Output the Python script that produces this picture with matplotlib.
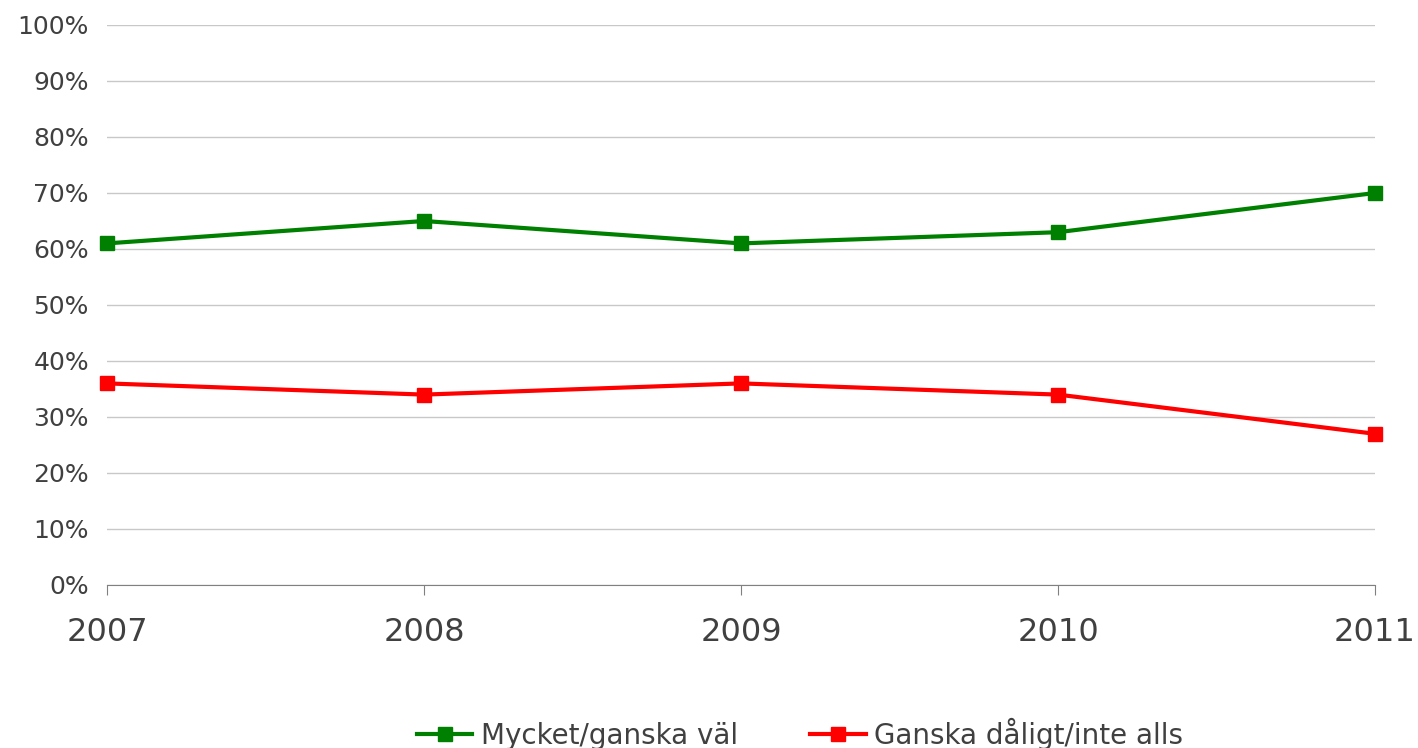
import matplotlib.pyplot as plt

years = ["2007", "2008", "2009", "2010", "2011"]
val_good = [61, 65, 61, 63, 70]
val_bad = [36, 34, 36, 34, 27]
labels = ["Mycket/ganska väl", "Ganska dåligt/inte alls"]

txt = "#404040"

fig = plt.figure(figsize=(14.18, 7.48), dpi=100)
ax = fig.add_axes([107 / 1418, 1 - 585 / 748, (1375 - 107) / 1418, 560 / 748])

x = range(len(years))
ax.plot(x, val_good, color="#008000", lw=3, marker="s", ms=10, label=labels[0], clip_on=False, zorder=3)
ax.plot(x, val_bad, color="#ff0000", lw=3, marker="s", ms=10, label=labels[1], clip_on=False, zorder=3)

ax.set_xlim(0, len(years) - 1)
ax.set_ylim(0, 100)
ax.set_yticks(range(0, 101, 10))
ax.set_yticklabels([f"{v}%" for v in range(0, 101, 10)], fontsize=18, color=txt)
ax.set_xticks(list(x))
ax.set_xticklabels(years, fontsize=23, color=txt)
ax.tick_params(axis="y", length=0, pad=13)
ax.tick_params(axis="x", length=7, color="#808080", pad=16, direction="out")
ax.grid(axis="y", color="#c8c8c8", lw=1)
ax.set_axisbelow(True)
for s in ["top", "right", "left"]:
    ax.spines[s].set_visible(False)
ax.spines["bottom"].set_color("#808080")

leg = fig.legend(loc="center", bbox_to_anchor=(800 / 1418, 1 - 734 / 748), ncol=2, frameon=False,
                 fontsize=20, handlelength=2.0, columnspacing=2.6, handletextpad=0.3)
for t in leg.get_texts():
    t.set_color(txt)

fig.savefig("out.png", dpi=100)
